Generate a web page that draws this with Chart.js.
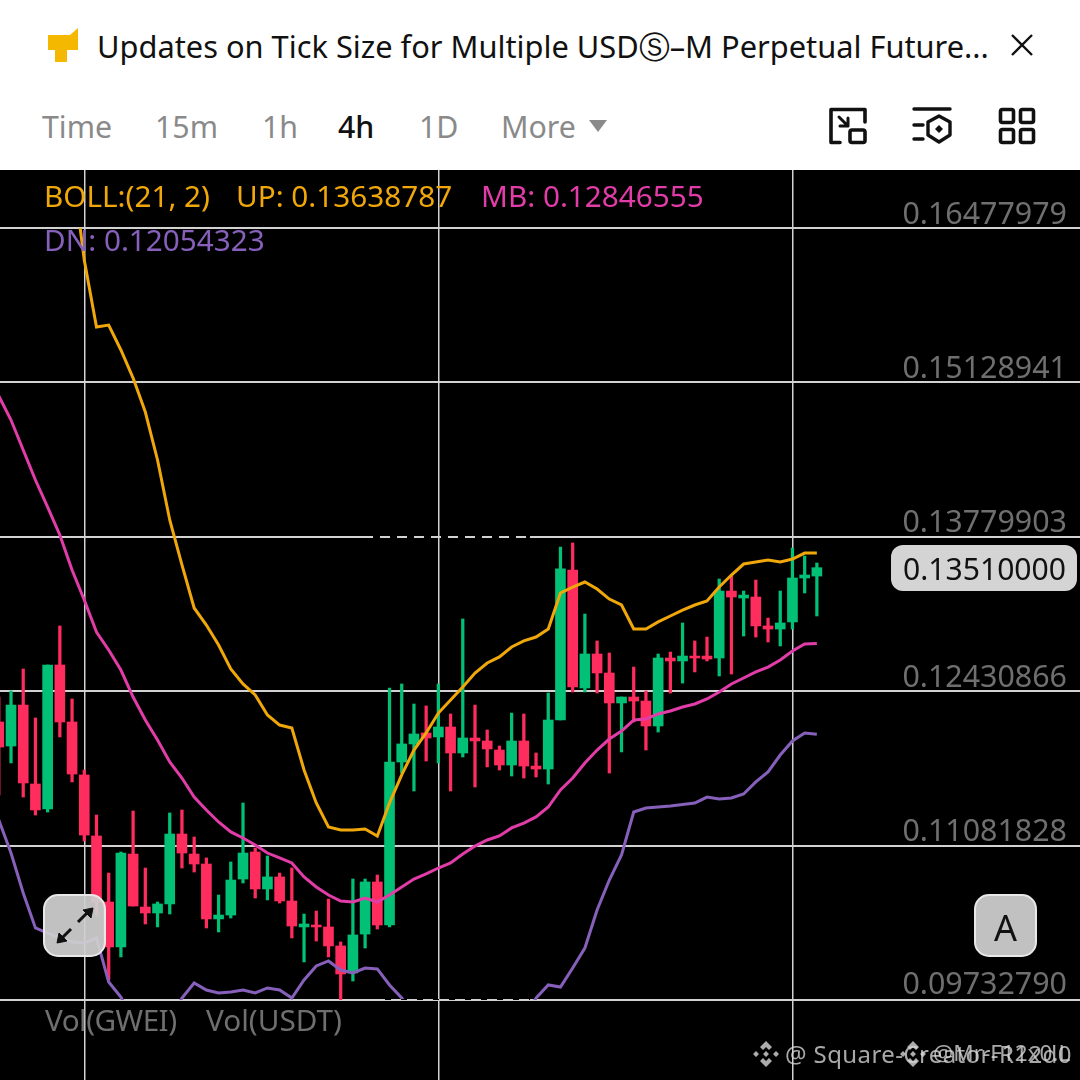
<!DOCTYPE html>
<html>
<head>
<meta charset="utf-8">
<title>BOLL candles</title>
<script src="https://cdn.jsdelivr.net/npm/chart.js@4"></script>
<style>
  html, body { margin: 0; padding: 0; width: 1080px; height: 1080px; overflow: hidden; background: #fff; font-family: "Noto Sans", sans-serif; }
  .t { position: absolute; white-space: nowrap; line-height: 1; }
  #chartBox { position: absolute; left: 0; top: 170px; width: 1080px; height: 910px; background: #000; }
  .btn { position: absolute; box-sizing: border-box; width: 63px; height: 63px; border-radius: 15px; background: rgba(208,208,208,.93); border: 2px solid #e8e8e8; }
  .wm { color: rgba(215,215,215,.78); }
  svg { position: absolute; }
</style>
</head>
<body>

<svg style="left:46px;top:28px" width="34" height="36" viewBox="0 0 34 36"><path d="M2 7 L24 7 L32 0 L32 22 L21 22 L21 34 L9 34 L9 22 L2 22 Z" fill="#F5B800"/></svg>
<div class="t" style="left:97px;top:31px;font-size:30.8px;color:#111">Updates on Tick Size for Multiple USDⓈ–M Perpetual Future...</div>
<svg style="left:1010px;top:33px" width="24" height="24" viewBox="0 0 24 24"><path d="M2 2 L22 22 M22 2 L2 22" stroke="#111" stroke-width="2.4"/></svg>

<div class="t" style="left:42px;top:112px;font-size:30.3px;color:#8a8a8a">Time</div>
<div class="t" style="left:155px;top:112px;font-size:30.3px;color:#8a8a8a">15m</div>
<div class="t" style="left:262px;top:112px;font-size:30.3px;color:#8a8a8a">1h</div>
<div class="t" style="left:338px;top:112px;font-size:30.3px;font-weight:500;color:#111">4h</div>
<div class="t" style="left:419px;top:112px;font-size:30.3px;color:#8a8a8a">1D</div>
<div class="t" style="left:501px;top:112px;font-size:30.3px;color:#8a8a8a">More</div>
<svg style="left:588px;top:119px" width="20" height="14" viewBox="0 0 20 14"><path d="M1 1 L19 1 L10 13 Z" fill="#8a8a8a"/></svg>

<svg style="left:828px;top:107px" width="40" height="38" viewBox="0 0 40 38" fill="none" stroke="#111" stroke-width="3.6" stroke-linejoin="round" stroke-linecap="round">
  <path d="M12 35.5 L3 35.5 L3 2.5 L37 2.5 L37 15"/>
  <rect x="22" y="23" width="15" height="12.5" rx="2"/>
  <path d="M11 10 L20 19 M20 11 L20 19 L12 19" stroke-width="3"/>
</svg>
<svg style="left:912px;top:107px" width="40" height="38" viewBox="0 0 40 38" fill="none" stroke="#111" stroke-width="3.4" stroke-linejoin="round" stroke-linecap="round">
  <path d="M2 2 L38 2 M2 18 L11 18 M2 32 L11 32"/>
  <path d="M27 9 L38 15 L38 28 L27 35 L16 28 L16 15 Z"/>
  <path d="M27 18 L31 22 L27 26 L23 22 Z" fill="#111" stroke="none"/>
</svg>
<svg style="left:998px;top:107px" width="38" height="38" viewBox="0 0 38 38" fill="none" stroke="#111" stroke-width="3.6">
  <rect x="2.5" y="2.5" width="13" height="13" rx="2"/><rect x="22.5" y="2.5" width="13" height="13" rx="2"/>
  <rect x="2.5" y="22.5" width="13" height="13" rx="2"/><rect x="22.5" y="22.5" width="13" height="13" rx="2"/>
</svg>

<div id="chartBox"><canvas id="candles" width="1080" height="910"></canvas></div>

<div style="position:absolute;left:373px;top:536px;width:157px;height:2px;background:repeating-linear-gradient(90deg,#000 0 7px,transparent 7px 17px)"></div>
<div style="position:absolute;left:385px;top:999px;width:145px;height:1px;background:repeating-linear-gradient(90deg,#000 0 6px,transparent 6px 16px)"></div>

<div class="t" style="left:44px;top:181px;font-size:29.7px;color:#F0A70A">BOLL:(21, 2)</div>
<div class="t" style="left:236px;top:181px;font-size:29.7px;color:#F0A70A">UP: 0.13638787</div>
<div class="t" style="left:481px;top:181px;font-size:29.7px;color:#E23CA8">MB: 0.12846555</div>
<div class="t" style="left:44px;top:225px;font-size:29.7px;color:#8660BB">DN: 0.12054323</div>
<div class="t" style="left:45px;top:1005px;font-size:29.7px;letter-spacing:-.55px;color:#6f6f6f">Vol(GWEI)</div>
<div class="t" style="left:206px;top:1005px;font-size:29.7px;color:#6f6f6f">Vol(USDT)</div>

<div style="position:absolute;left:891px;top:545px;width:186px;height:46px;border-radius:12px;background:#d4d4d4"></div>
<div class="t" style="left:903px;top:554px;font-size:30.1px;color:#111">0.13510000</div>

<div class="btn" style="left:43px;top:894px"></div>
<svg style="left:52px;top:903px" width="44" height="44" viewBox="0 0 44 44" fill="#111" stroke="#111" stroke-width="3">
  <path d="M26 19 L36 9 M19 26 L9 36" fill="none"/>
  <path d="M41 5 L31 7 L39 15 Z M5 40 L7 30 L15 38 Z" stroke-width="1"/>
</svg>
<div class="btn" style="left:974px;top:894px"></div>
<div class="t" style="left:994px;top:910px;font-size:36px;color:#111">A</div>

<svg style="left:752px;top:1040px" width="28" height="28" viewBox="0 0 28 28" fill="rgba(215,215,215,.8)"><path d="M14 1 L20 7 L17 10 L14 7 L11 10 L8 7 Z M14 27 L20 21 L17 18 L14 21 L11 18 L8 21 Z M1 14 L4 11 L7 14 L4 17 Z M27 14 L24 11 L21 14 L24 17 Z M14 11 L17 14 L14 17 L11 14 Z"/></svg>
<div class="t wm" style="left:785px;top:1042px;font-size:24px;letter-spacing:.4px">@ Square-Creator-R12d0</div>
<svg style="left:899px;top:1040px" width="28" height="28" viewBox="0 0 28 28" fill="rgba(215,215,215,.8)"><path d="M14 1 L20 7 L17 10 L14 7 L11 10 L8 7 Z M14 27 L20 21 L17 18 L14 21 L11 18 L8 21 Z M1 14 L4 11 L7 14 L4 17 Z M27 14 L24 11 L21 14 L24 17 Z M14 11 L17 14 L14 17 L11 14 Z"/></svg>
<div class="t wm" style="left:933px;top:1042px;font-size:22.5px">@Mr-F12x0.L</div>

<script>
// index = candle number from the left
const opens = [0.12162,0.11952,0.12310,0.11620,0.11402,0.12660,0.12162,0.11699,0.11166,0.10589,
  0.10196,0.11008,0.10545,0.10493,0.10572,0.11183,0.11008,0.10921,0.10441,0.10475,
  0.10790,0.11026,0.10703,0.10808,0.10598,0.10371,0.10388,0.10371,0.10205,0.09969,
  0.10309,0.10764,0.10388,0.11812,0.11970,0.12066,0.12031,0.12118,0.11891,0.12022,
  0.11996,0.11917,0.11786,0.11996,0.11777,0.11751,0.12179,0.13490,0.12459,0.12756,
  0.12590,0.12328,0.12380,0.12345,0.12127,0.12721,0.12695,0.12738,0.12738,0.12721,
  0.13306,0.13245,0.13254,0.13001,0.12974,0.13036,0.13420,0.13437];
const closes = [0.11943,0.12310,0.11629,0.11393,0.12660,0.12162,0.11707,0.11174,0.10589,0.10196,
  0.11017,0.10554,0.10493,0.10572,0.11183,0.11017,0.10921,0.10441,0.10475,0.10781,
  0.11017,0.10703,0.10808,0.10598,0.10379,0.10397,0.10371,0.10205,0.09960,0.10301,
  0.10764,0.10388,0.11812,0.11970,0.12057,0.12022,0.12118,0.11891,0.12022,0.11996,
  0.11926,0.11786,0.11996,0.11777,0.11751,0.12179,0.13499,0.12468,0.12756,0.12590,
  0.12328,0.12380,0.12345,0.12127,0.12721,0.12695,0.12738,0.12721,0.12712,0.13306,
  0.13254,0.13271,0.13001,0.12974,0.13027,0.13420,0.13446,0.13510];
const highs = [0.12380,0.12433,0.12625,0.12197,0.12660,0.13001,0.12363,0.11742,0.11349,0.10842,
  0.11026,0.11384,0.10886,0.10589,0.11367,0.11393,0.11157,0.10974,0.10650,0.10939,
  0.11454,0.11061,0.10991,0.10842,0.10886,0.10484,0.10510,0.10615,0.10240,0.10790,
  0.10790,0.10825,0.12459,0.12494,0.12319,0.12302,0.12494,0.12232,0.13062,0.12310,
  0.12092,0.11952,0.12240,0.12232,0.11891,0.12415,0.13691,0.13726,0.13105,0.12870,
  0.12765,0.12380,0.12642,0.12433,0.12756,0.12773,0.13027,0.12870,0.12904,0.13411,
  0.13437,0.13306,0.13402,0.13070,0.13306,0.13682,0.13612,0.13551];
const lows = [0.11524,0.11804,0.11506,0.11349,0.11375,0.12031,0.11638,0.11122,0.10475,0.09908,
  0.10109,0.10554,0.10397,0.10371,0.10484,0.10886,0.10851,0.10362,0.10327,0.10449,
  0.10755,0.10624,0.10607,0.10580,0.10275,0.10065,0.10248,0.10109,0.09689,0.09899,
  0.10187,0.10353,0.10371,0.11716,0.11559,0.11821,0.11804,0.11559,0.11856,0.11594,
  0.11769,0.11742,0.11690,0.11672,0.11681,0.11620,0.12179,0.12424,0.12424,0.12415,
  0.11716,0.11900,0.12162,0.11917,0.12074,0.12415,0.12502,0.12599,0.12695,0.12564,
  0.12581,0.12913,0.12904,0.12861,0.12826,0.12974,0.13289,0.13088];

const bollUp = [null,null,null,null,null,null,0.17028,0.16198,0.15613,0.15630,
  0.15412,0.15167,0.14870,0.14451,0.13927,0.13534,0.13158,0.13009,0.12834,0.12625,
  0.12494,0.12398,0.12223,0.12135,0.12109,0.11742,0.11454,0.11244,0.11218,0.11218,
  0.11227,0.11166,0.11454,0.11699,0.11917,0.12066,0.12240,0.12354,0.12468,0.12590,
  0.12677,0.12730,0.12817,0.12870,0.12904,0.12974,0.13289,0.13341,0.13385,0.13324,
  0.13236,0.13184,0.12974,0.12974,0.13036,0.13088,0.13140,0.13184,0.13219,0.13341,
  0.13446,0.13542,0.13560,0.13577,0.13560,0.13586,0.13638,0.13639];
const bollMid = [0.15010,0.14800,0.14538,0.14276,0.14040,0.13796,0.13490,0.13228,0.12948,0.12791,
  0.12616,0.12380,0.12179,0.12004,0.11812,0.11672,0.11506,0.11393,0.11288,0.11201,
  0.11148,0.11087,0.11017,0.10974,0.10930,0.10808,0.10720,0.10650,0.10598,0.10589,
  0.10624,0.10589,0.10650,0.10720,0.10790,0.10834,0.10886,0.10930,0.11008,0.11078,
  0.11131,0.11166,0.11236,0.11279,0.11332,0.11419,0.11568,0.11672,0.11804,0.11917,
  0.12013,0.12083,0.12179,0.12188,0.12232,0.12258,0.12293,0.12319,0.12363,0.12424,
  0.12494,0.12546,0.12599,0.12642,0.12703,0.12782,0.12843,0.12847];
const bollDn = [0.11305,0.11017,0.10668,0.10362,0.10318,0.10275,0.10240,0.10231,0.10275,0.09890,
  0.09759,0.09558,0.09383,0.09383,0.09558,0.09750,0.09881,0.09820,0.09794,0.09803,
  0.09820,0.09794,0.09838,0.09820,0.09750,0.09908,0.10030,0.10074,0.09995,0.09969,
  0.10012,0.10004,0.09864,0.09750,0.09602,0.09471,0.09383,0.09340,0.09296,0.09296,
  0.09296,0.09340,0.09383,0.09558,0.09750,0.09864,0.09846,0.10012,0.10187,0.10519,
  0.10781,0.11000,0.11375,0.11410,0.11419,0.11428,0.11441,0.11454,0.11506,0.11489,
  0.11498,0.11533,0.11638,0.11725,0.11873,0.11996,0.12066,0.12054];

const priceTicks = ['0.16477979','0.15128941','0.13779903','0.12430866','0.11081828','0.09732790'];
const timeTicks = [7, 36, 65];

const upColor = '#02C076';
const downColor = '#FF2C5E';
const gridColor = '#d2d2d2';

const candleColors = closes.map((c, i) => c >= opens[i] ? upColor : downColor);

// keeps marks inside the 0.0973 - 0.1648 band, the scale itself runs past it
const priceClip = { left: 0, right: 0, top: -58, bottom: -80 };

const priceLabels = {
  id: 'priceLabels',
  afterDraw(chart) {
    const { ctx, scales } = chart;
    ctx.save();
    ctx.font = '30.4px "Noto Sans"';
    ctx.fillStyle = '#6f6f6f';
    ctx.textAlign = 'right';
    ctx.textBaseline = 'middle';
    priceTicks.forEach((t, i) => {
      const off = i === priceTicks.length - 1 ? 15 : 13;
      ctx.fillText(t, 1067, scales.y.getPixelForValue(parseFloat(t)) - off);
    });
    ctx.restore();
  }
};

function lineSet(data, color) {
  return {
    type: 'line', data, borderColor: color, borderWidth: 3, pointRadius: 0,
    tension: 0, clip: priceClip, order: 0
  };
}

new Chart(document.getElementById('candles').getContext('2d'), {
  type: 'bar',
  data: {
    datasets: [
      lineSet(bollUp.map((v, i) => ({ x: i, y: v })), '#F0A70A'),
      lineSet(bollMid.map((v, i) => ({ x: i, y: v })), '#E23CA8'),
      lineSet(bollDn.map((v, i) => ({ x: i, y: v })), '#8660BB'),
      {
        data: opens.map((o, i) => ({ x: i, y: [o, closes[i]] })),
        backgroundColor: candleColors, barThickness: 10, grouped: false,
        clip: priceClip, order: 1
      },
      {
        data: lows.map((l, i) => ({ x: i, y: [l, highs[i]] })),
        backgroundColor: candleColors, barThickness: 2.6, grouped: false,
        clip: priceClip, order: 2
      }
    ]
  },
  options: {
    responsive: false,
    animation: false,
    devicePixelRatio: 1,
    layout: { padding: 0 },
    plugins: { legend: { display: false }, tooltip: { enabled: false } },
    scales: {
      x: {
        type: 'linear', min: 0.098, max: 88.55, offset: false,
        afterBuildTicks: s => { s.ticks = timeTicks.map(v => ({ value: v })); },
        ticks: { display: false },
        grid: { color: gridColor, lineWidth: 1.5, drawTicks: false, offset: false },
        border: { display: false }
      },
      y: {
        min: 0.0903381, max: 0.1698474,
        afterBuildTicks: s => { s.ticks = priceTicks.map(t => ({ value: parseFloat(t) })); },
        ticks: { display: false },
        grid: { color: gridColor, lineWidth: 2, drawTicks: false },
        border: { display: false }
      }
    }
  },
  plugins: [priceLabels]
});
</script>
</body>
</html>
